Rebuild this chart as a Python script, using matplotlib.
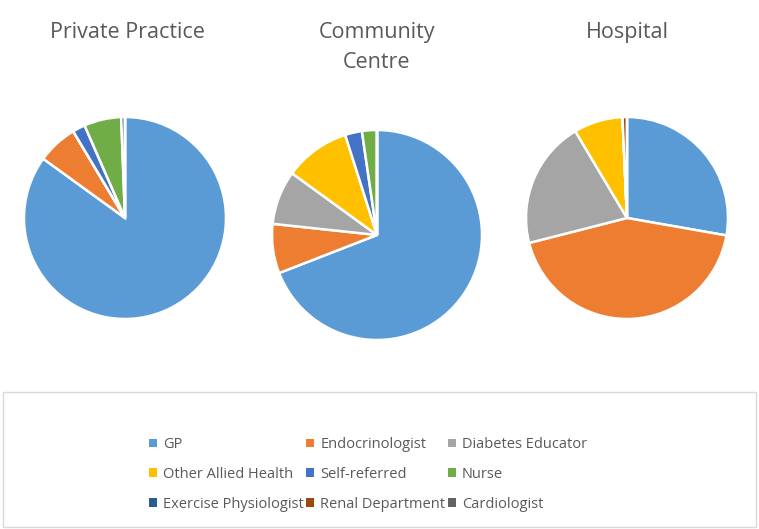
import matplotlib
matplotlib.use("Agg")
import matplotlib.pyplot as plt
from matplotlib.patches import Rectangle, Patch

categories = ["GP", "Endocrinologist", "Diabetes Educator", "Other Allied Health",
              "Self-referred", "Nurse", "Exercise Physiologist", "Renal Department",
              "Cardiologist"]
colors = ["#5B9BD5", "#ED7D31", "#A5A5A5", "#FFC000", "#4472C4", "#70AD47",
          "#255E91", "#9E480E", "#636363"]

titles = ["Private Practice", "Community\nCentre", "Hospital"]
private_practice = [84.3, 6.4, 0.0, 0.0, 2.0, 5.9, 0.6, 0.0, 0.0]
community_centre = [69.1, 7.6, 8.3, 10.1, 2.6, 2.3, 0.0, 0.0, 0.0]
hospital = [27.6, 43.0, 20.3, 7.8, 0.0, 0.0, 0.0, 0.7, 0.0]
series = [private_practice, community_centre, hospital]

W, H = 759, 529
fig = plt.figure(figsize=(W / 100, H / 100), dpi=100)
font = ["Open Sans", "DejaVu Sans"]
text_color = "#595959"

# pie placement (pixel centre, radius)
pie_geom = [(125, 218, 101), (377, 235, 105), (627, 218, 101)]
title_x = [127, 377, 627]

for vals, (cx, cy, r), title, tx in zip(series, pie_geom, titles, title_x):
    ax = fig.add_axes([(cx - r) / W, (H - cy - r) / H, 2 * r / W, 2 * r / H])
    ax.pie(vals, colors=colors, startangle=90, counterclock=False,
           wedgeprops=dict(edgecolor="white", linewidth=1.8))
    ax.set_xlim(-1.0, 1.0)
    ax.set_ylim(-1.0, 1.0)
    ax.set_aspect("equal")
    ax.axis("off")
    fig.text(tx / W, 1 - 22 / H, title, ha="center", va="top", fontsize=15.5,
             color=text_color, family=font, linespacing=1.55)

# legend frame
fig.patches.append(Rectangle((3 / W, 2 / H), 753 / W, (527 - 392) / H,
                             transform=fig.transFigure, facecolor="none",
                             edgecolor="#D9D9D9", linewidth=1))

# row-major ordering for a 3-column legend (matplotlib fills column-first)
ncol = 3
order = [i + ncol * j for i in range(ncol) for j in range(len(categories) // ncol)]
handles = [Patch(facecolor=colors[k], edgecolor="none") for k in order]
labels = [categories[k] for k in order]
leg = fig.legend(handles, labels, ncol=ncol, loc="center",
                 bbox_to_anchor=(368 / W, 1 - 474.5 / H), frameon=False,
                 prop=dict(family=font, size=10.5), labelcolor=text_color,
                 handlelength=0.55, handleheight=0.55, handletextpad=0.4,
                 columnspacing=0.2, labelspacing=1.02)

fig.savefig("out.png", dpi=100)
